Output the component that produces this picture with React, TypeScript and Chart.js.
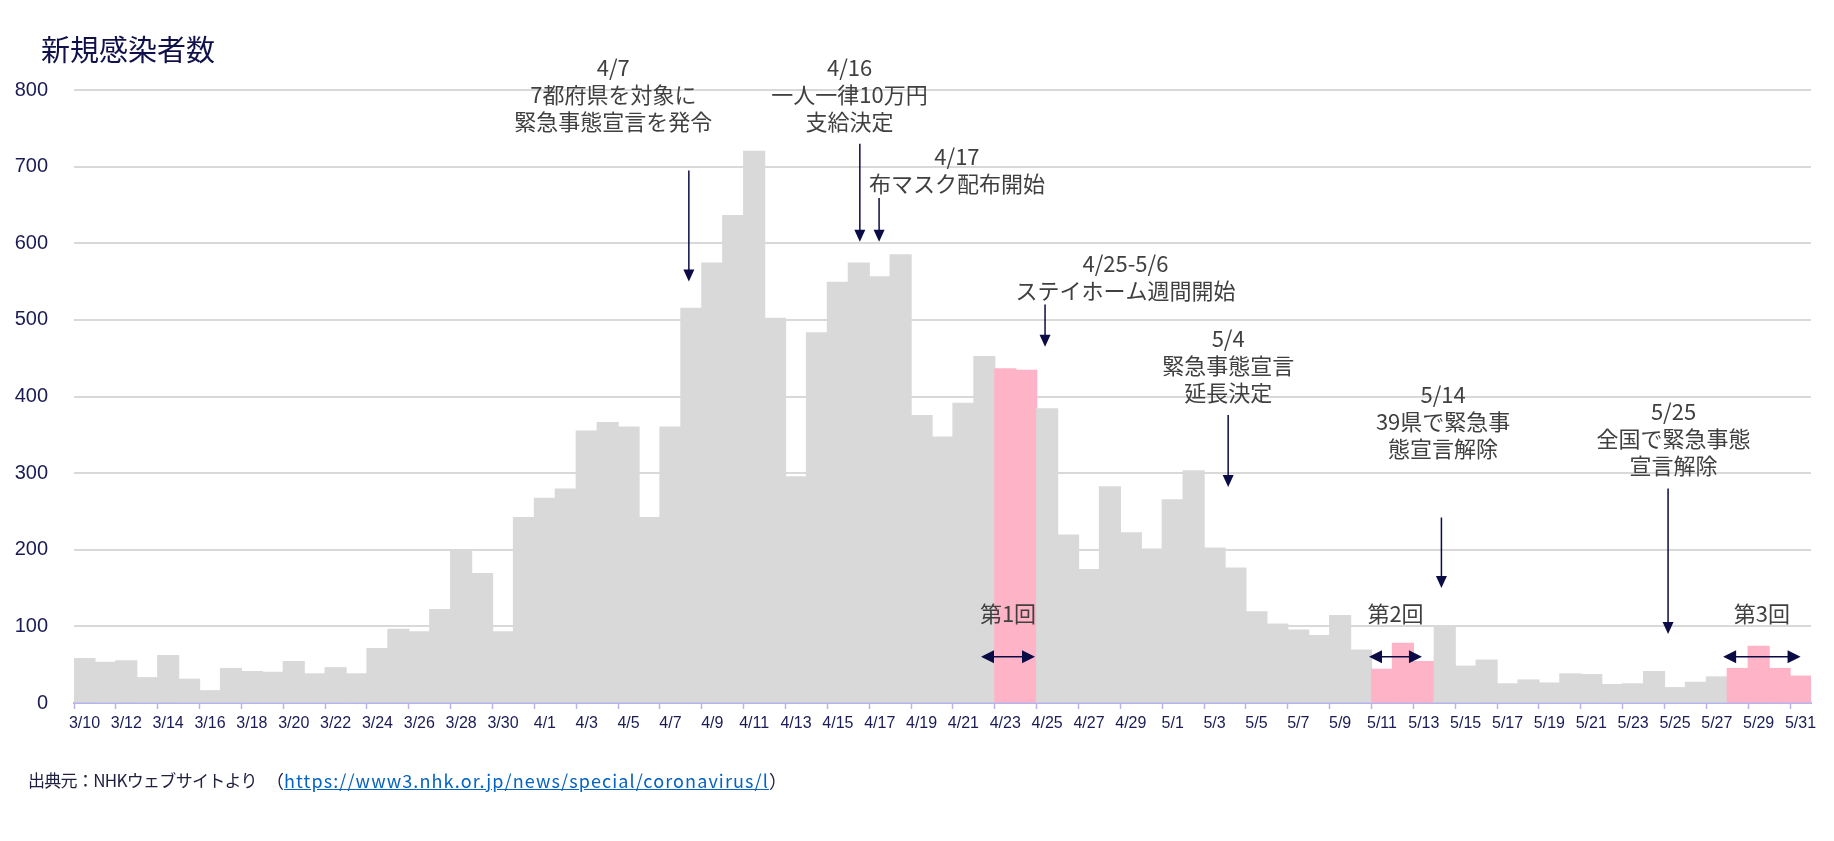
import { useEffect, useRef } from 'react';
import Chart from 'chart.js/auto';
import type { Plugin } from 'chart.js';

const dates = [
  '3/10', '3/11', '3/12', '3/13', '3/14', '3/15', '3/16', '3/17', '3/18', '3/19', '3/20',
  '3/21', '3/22', '3/23', '3/24', '3/25', '3/26', '3/27', '3/28', '3/29', '3/30', '3/31',
  '4/1', '4/2', '4/3', '4/4', '4/5', '4/6', '4/7', '4/8', '4/9', '4/10', '4/11', '4/12',
  '4/13', '4/14', '4/15', '4/16', '4/17', '4/18', '4/19', '4/20', '4/21', '4/22', '4/23',
  '4/24', '4/25', '4/26', '4/27', '4/28', '4/29', '4/30',
  '5/1', '5/2', '5/3', '5/4', '5/5', '5/6', '5/7', '5/8', '5/9', '5/10', '5/11', '5/12',
  '5/13', '5/14', '5/15', '5/16', '5/17', '5/18', '5/19', '5/20', '5/21', '5/22', '5/23',
  '5/24', '5/25', '5/26', '5/27', '5/28', '5/29', '5/30', '5/31',
];

const newCases = [
  58, 53, 55, 33, 62, 31, 16, 45, 41, 40, 54,
  38, 46, 38, 71, 96, 93, 122, 200, 169, 93, 242,
  267, 279, 355, 366, 360, 242, 360, 515, 574, 636, 720, 502,
  295, 483, 549, 574, 556, 585, 375, 347, 391, 452, 436,
  434, 384, 219, 174, 282, 222, 201,
  265, 303, 202, 176, 119, 103, 95, 88, 114, 69, 44, 78,
  54, 100, 48, 56, 25, 30, 26, 38, 37, 24, 25,
  41, 20, 27, 34, 45, 74, 45, 35,
];

// 給付金の支給回（ピンクの棒）
const payoutDays = ['4/23', '4/24', '5/11', '5/12', '5/13', '5/28', '5/29', '5/30', '5/31'];

const yMax = 800;
const yStep = 100;

// annotations: `at` is a position on the category axis, values on the y axis
const notes = [
  { at: 25.27, top: 829, lines: ['4/7', '7都府県を対象に', '緊急事態宣言を発令'] },
  { at: 36.56, top: 829, lines: ['4/16', '一人一律10万円', '支給決定'] },
  { at: 41.69, top: 713, lines: ['4/17', '布マスク配布開始'] },
  { at: 49.74, top: 574, lines: ['4/25-5/6', 'ステイホーム週間開始'] },
  { at: 54.65, top: 476, lines: ['5/4', '緊急事態宣言', '延長決定'] },
  { at: 64.92, top: 402, lines: ['5/14', '39県で緊急事', '態宣言解除'] },
  { at: 75.93, top: 380, lines: ['5/25', '全国で緊急事態', '宣言解除'] },
];

const pointers = [
  { at: 28.88, from: 695, to: 550 },
  { at: 37.05, from: 730, to: 602 },
  { at: 37.97, from: 659, to: 602 },
  { at: 45.9, from: 520, to: 465 },
  { at: 54.65, from: 376, to: 282 },
  { at: 64.84, from: 242, to: 150 },
  { at: 75.67, from: 280, to: 90 },
];

const rounds = [
  { label: '第1回', from: 42.84, to: 45.42, level: 60.5 },
  { label: '第2回', from: 61.38, to: 63.91, level: 60.5 },
  { label: '第3回', from: 78.3, to: 82.0, level: 60.5 },
];

const NAVY = '#1b1b55';
const ARROW = '#0b0b45';
const AXIS = '#b4b4f0';
const NOTE_FONT = '22px "Noto Sans CJK JP", sans-serif';

const annotationPlugin: Plugin<'bar'> = {
  id: 'annotations',
  afterDatasetsDraw(chart) {
    const { ctx } = chart;
    const x = chart.scales.x;
    const y = chart.scales.y;
    ctx.save();

    ctx.fillStyle = '#404040';
    ctx.font = NOTE_FONT;
    ctx.textAlign = 'center';
    ctx.textBaseline = 'middle';
    for (const n of notes) {
      const cx = x.getPixelForValue(n.at);
      const cy = y.getPixelForValue(n.top);
      n.lines.forEach((line, i) => ctx.fillText(line, cx, cy + i * 27));
    }

    ctx.strokeStyle = ARROW;
    ctx.fillStyle = ARROW;
    ctx.lineWidth = 1.5;
    for (const p of pointers) {
      const px = x.getPixelForValue(p.at);
      const y1 = y.getPixelForValue(p.from);
      const y2 = y.getPixelForValue(p.to);
      ctx.beginPath();
      ctx.moveTo(px, y1);
      ctx.lineTo(px, y2 - 10);
      ctx.stroke();
      ctx.beginPath();
      ctx.moveTo(px - 5.5, y2 - 12);
      ctx.lineTo(px + 5.5, y2 - 12);
      ctx.lineTo(px, y2);
      ctx.closePath();
      ctx.fill();
    }

    for (const r of rounds) {
      const x1 = x.getPixelForValue(r.from);
      const x2 = x.getPixelForValue(r.to);
      const py = y.getPixelForValue(r.level);
      ctx.strokeStyle = ARROW;
      ctx.fillStyle = ARROW;
      ctx.beginPath();
      ctx.moveTo(x1 + 10, py);
      ctx.lineTo(x2 - 10, py);
      ctx.stroke();
      ctx.beginPath();
      ctx.moveTo(x1, py);
      ctx.lineTo(x1 + 13, py - 6.5);
      ctx.lineTo(x1 + 13, py + 6.5);
      ctx.closePath();
      ctx.fill();
      ctx.beginPath();
      ctx.moveTo(x2, py);
      ctx.lineTo(x2 - 13, py - 6.5);
      ctx.lineTo(x2 - 13, py + 6.5);
      ctx.closePath();
      ctx.fill();
      ctx.fillStyle = '#404040';
      ctx.fillText(r.label, (x1 + x2) / 2, py - 43);
    }
    ctx.restore();
  },
};

export default function App() {
  const canvasRef = useRef<HTMLCanvasElement>(null);

  useEffect(() => {
    const canvas = canvasRef.current;
    if (!canvas) return;

    const chart = new Chart(canvas, {
      type: 'bar',
      data: {
        labels: dates,
        datasets: [
          {
            label: '新規感染者数',
            data: newCases,
            backgroundColor: dates.map((d) => (payoutDays.includes(d) ? '#ffb3c6' : '#d9d9d9')),
            borderWidth: 0,
            barPercentage: 1,
            categoryPercentage: 1,
            inflateAmount: 0.6,
          },
        ],
      },
      options: {
        animation: false,
        responsive: true,
        maintainAspectRatio: false,
        layout: { padding: { top: 90, right: 23, left: 0, bottom: 0 } },
        plugins: {
          legend: { display: false },
          tooltip: { enabled: false },
        },
        scales: {
          x: {
            offset: true,
            grid: {
              offset: true,
              drawOnChartArea: false,
              tickLength: 6,
              tickWidth: 1.5,
              tickColor: (c) => (c.index !== undefined && c.index % 2 === 0 ? AXIS : 'rgba(0,0,0,0)'),
            },
            border: { color: AXIS, width: 2 },
            ticks: {
              autoSkip: false,
              maxRotation: 0,
              minRotation: 0,
              padding: 5,
              color: NAVY,
              font: { family: '"Liberation Sans", sans-serif', size: 16 },
              callback: (_v, i) => (i % 2 === 0 ? dates[i] : ''),
            },
            afterFit: (s) => {
              s.height = 138;
            },
          },
          y: {
            min: 0,
            max: yMax,
            ticks: {
              stepSize: yStep,
              padding: 26,
              color: NAVY,
              font: { family: '"Liberation Sans", sans-serif', size: 20 },
            },
            grid: {
              color: (c) => (c.tick && c.tick.value === 0 ? 'rgba(0,0,0,0)' : '#d9d9d9'),
              lineWidth: 2,
              drawTicks: false,
            },
            border: { display: false },
            afterFit: (s) => {
              s.width = 74;
            },
          },
        },
      },
      plugins: [annotationPlugin],
    });

    return () => {
      chart.destroy();
    };
  }, []);

  const footerFont = '"Noto Sans CJK JP", sans-serif';

  return (
    <div style={{ position: 'absolute', left: 0, top: 0, width: 1834, height: 841, background: '#fff' }}>
      <canvas ref={canvasRef} />
      <div
        style={{
          position: 'absolute',
          left: 41,
          top: 34,
          font: `29px/29px ${footerFont}`,
          color: '#10104a',
        }}
      >
        新規感染者数
      </div>
      <div
        style={{
          position: 'absolute',
          left: 28,
          top: 770,
          font: `17px/20px ${footerFont}`,
          letterSpacing: '-0.7px',
          color: '#202040',
          whiteSpace: 'pre',
        }}
      >
        出典元：NHKウェブサイトより
      </div>
      <div
        style={{
          position: 'absolute',
          left: 266,
          top: 770,
          font: `18px/20px ${footerFont}`,
          color: '#202040',
          whiteSpace: 'pre',
        }}
      >
        <span>（</span>
        <span style={{ color: '#0563c1', textDecoration: 'underline', letterSpacing: '1.1px' }}>
          https://www3.nhk.or.jp/news/special/coronavirus/l
        </span>
        <span>）</span>
      </div>
    </div>
  );
}
